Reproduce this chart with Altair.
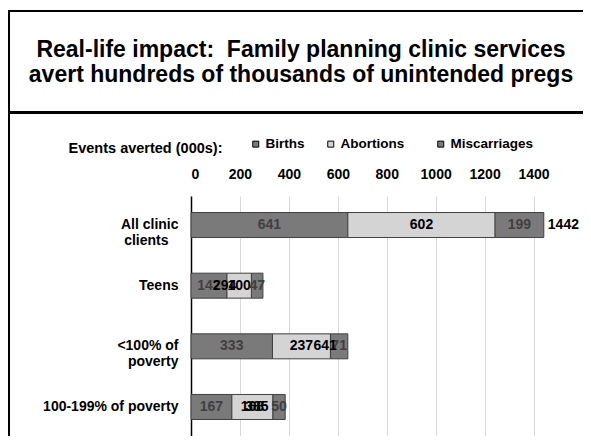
import altair as alt
import pandas as pd

# ---- data ----
categories = ["All clinic clients", "Teens", "<100% of poverty", "100-199% of poverty"]
category_labels = ["All clinic\nclients\u2800", "Teens", "<100% of\npoverty", "100-199% of poverty"]
segments = ["Births", "Abortions", "Miscarriages"]
births = [641, 147, 333, 167]
abortions = [602, 100, 237, 168]
miscarriages = [199, 47, 71, 50]
totals = [1442, 294, 641, 385]
total_label_at = [1522, 137, 548, 269]   # where the total labels sit on the value axis
x_ticks = [0, 200, 400, 600, 800, 1000, 1200, 1400]
title_lines = ["Real-life impact:\u00a0 Family planning clinic services",
               "avert hundreds of thousands of unintended pregs"]
legend_caption = "Events averted (000s):"

FONT = "Liberation Sans"

rows = []
for i, cat in enumerate(category_labels):
    start = 0
    for seg, vals in zip(segments, [births, abortions, miscarriages]):
        v = vals[i]
        rows.append(dict(cat=cat, seg=seg, value=v, start=start, end=start + v, mid=start + v / 2))
        start += v
df = pd.DataFrame(rows)
tot_df = pd.DataFrame(dict(cat=category_labels, total=totals, at=total_label_at))
one = pd.DataFrame({"k": [0]})

xscale = alt.Scale(domain=[0, 1500], nice=False, zero=True)
yscale = alt.Scale(paddingInner=0.588, paddingOuter=0.2725)
ysort = category_labels

x_axis = alt.Axis(orient="top", values=x_ticks, format="d", grid=True, gridColor="#d9d9d9", gridWidth=1,
                  domain=False, ticks=False, labelFont=FONT, labelFontSize=14,
                  labelFontWeight="bold", labelColor="black", labelPadding=15, title=None)
y_axis = alt.Axis(title=None, ticks=False, domain=True, domainColor="black", domainWidth=1.5,
                  labelFont=FONT, labelFontSize=14, labelFontWeight="bold", labelColor="black",
                  labelPadding=13, labelExpr="split(datum.label, '\\n')", labelLineHeight=16,
                  labelLimit=0, grid=False)

legend = alt.Legend(orient="none", legendX=58, legendY=-59, direction="horizontal", title=None,
                    symbolType="square", symbolSize=36, symbolStrokeColor="black",
                    symbolStrokeWidth=1, labelFont=FONT, labelFontSize=13.5, labelFontWeight="bold",
                    labelColor="black", labelOffset=3, columnPadding=19,
                    labelExpr="datum.label == 'Abortions' ? 'Abortions\u2800' : datum.label")

bars = alt.Chart(df).mark_bar(stroke="#404040", strokeWidth=1).encode(
    x=alt.X("start:Q", scale=xscale, axis=x_axis),
    x2="end:Q",
    y=alt.Y("cat:N", sort=ysort, scale=yscale, axis=y_axis),
    color=alt.Color("seg:N", sort=segments,
                    scale=alt.Scale(domain=segments, range=["#7a7a7a", "#d4d4d4", "#7a7a7a"]),
                    legend=legend),
)

seg_text = alt.Chart(df).mark_text(font=FONT, fontSize=14, fontWeight="bold").encode(
    x=alt.X("mid:Q", scale=xscale),
    y=alt.Y("cat:N", sort=ysort, scale=yscale),
    text="value:Q",
    color=alt.condition("datum.seg == 'Abortions'", alt.value("black"), alt.value("#404040")),
)

tot_text = alt.Chart(tot_df).mark_text(font=FONT, fontSize=14, fontWeight="bold", color="black").encode(
    x=alt.X("at:Q", scale=xscale),
    y=alt.Y("cat:N", sort=ysort, scale=yscale),
    text="total:Q",
)

title = alt.Chart(one).mark_text(text=title_lines, font=FONT, fontSize=23, fontWeight="bold",
                                 align="center", baseline="alphabetic", lineHeight=25,
                                 color="black").encode(x=alt.value(110), y=alt.value(-139))

caption = alt.Chart(one).mark_text(text=legend_caption, font=FONT, fontSize=14.5, fontWeight="bold",
                                   align="right", baseline="middle", color="black").encode(
    x=alt.value(31.5), y=alt.value(-47))

left_line = alt.Chart(one).mark_rule(color="black", strokeWidth=3).encode(
    x=alt.value(-182.5), y=alt.value(-186), y2=alt.value(260))
top_line = alt.Chart(one).mark_rule(color="black", strokeWidth=2).encode(
    x=alt.value(-184), x2=alt.value(420), y=alt.value(-185))
title_rule = alt.Chart(one).mark_rule(color="black", strokeWidth=3).encode(
    x=alt.value(-184), x2=alt.value(420), y=alt.value(-83.5))

chart = alt.layer(bars, seg_text, tot_text, title, caption, left_line, top_line, title_rule).properties(
    width=367, height=240,
    padding={"left": 183, "top": 188, "right": 25, "bottom": 0},
    autosize=alt.AutoSizeParams(type="none"),
    background="white",
).configure(font=FONT).configure_view(stroke=None)

chart.save("out.html", embed_options={"renderer": "svg", "actions": False})
